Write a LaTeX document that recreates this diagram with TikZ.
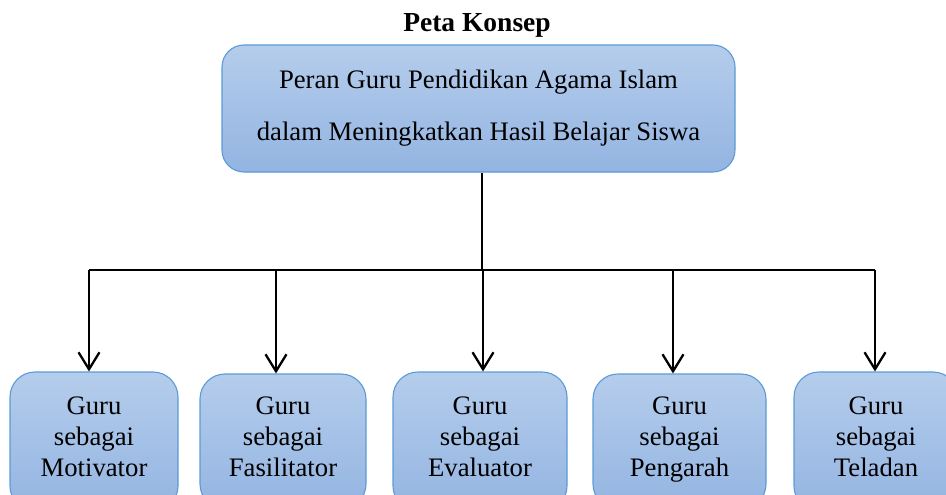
\documentclass[tikz,border=0pt]{standalone}
\usepackage{fontspec}
\setmainfont{Liberation Serif}
\usetikzlibrary{arrows.meta, positioning}

\definecolor{boxtop}{RGB}{181,205,236}
\definecolor{boxbot}{RGB}{147,180,225}
\definecolor{boxline}{RGB}{91,155,213}

\begin{document}
\begin{tikzpicture}[
        x=1pt, y=1pt,
        box/.style={draw=boxline, line width=1.1pt,
                top color=boxtop, bottom color=boxbot,
                align=center, inner sep=0pt},
        root/.style={box, rounded corners=22pt,
                minimum width=513pt, minimum height=127pt,
                font=\fontsize{26.7}{52}\selectfont},
        leaf/.style={box, rounded corners=25pt, minimum height=139pt,
                font=\fontsize{26.7}{31}\selectfont},
        link/.style={line width=1.3pt},
        arr/.style={-{Straight Barb[length=17pt, width=21pt]}, line width=2.3pt}]

    \useasboundingbox (0,0) rectangle (946,-495);

    \node[font=\fontsize{27.5}{30}\selectfont\bfseries] (title) at (477,-25) {Peta Konsep};
    \node[root] (peran) at (478.5,-108.5)
    {Peran Guru Pendidikan Agama Islam\\dalam Meningkatkan Hasil Belajar Siswa};

    \node[leaf, minimum width=168pt] (motiv) at (94,-441.5) {Guru\\sebagai\\Motivator\strut};
    \node[leaf, minimum width=166pt, minimum height=135pt] (fasil) at (283,-441.5) {Guru\\sebagai\\Fasilitator\strut};
    \node[leaf, minimum width=174pt] (evalu) at (480,-441.5) {Guru\\sebagai\\Evaluator\strut};
    \node[leaf, minimum width=173pt, minimum height=135pt] (penga) at (679.5,-441.5) {Guru\\sebagai\\Pengarah\strut};
    \node[leaf, minimum width=164pt] (telad) at (876,-441.5) {Guru\\sebagai\\Teladan\strut};

    % branch points
    \coordinate (hub) at (482,-270);
    \coordinate (b1) at (89,-270);
    \coordinate (b2) at (276,-270);
    \coordinate (b3) at (483,-270);
    \coordinate (b4) at (673,-270);
    \coordinate (b5) at (875,-270);

    \draw[link] (peran.south -| hub) -- (hub);
    \draw[link] (b1) -- (b5);

    \draw[arr] (b1) -- (b1 |- motiv.north);
    \draw[arr] (b2) -- (b2 |- fasil.north);
    \draw[arr] (b3) -- (b3 |- evalu.north);
    \draw[arr] (b4) -- (b4 |- penga.north);
    \draw[arr] (b5) -- (b5 |- telad.north);
\end{tikzpicture}
\end{document}
